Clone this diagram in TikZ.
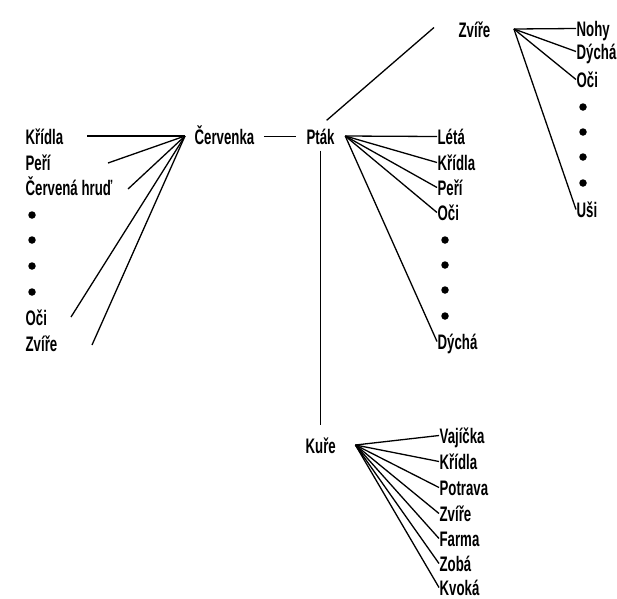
\documentclass[tikz,border=0pt]{standalone}
\usepackage{fontspec}
\setmainfont[FakeStretch=0.63]{Liberation Sans}
\begin{document}
\begin{tikzpicture}[x=1pt,y=-1pt,line width=1.3pt,
  word/.style={anchor=base west,inner sep=0pt,text height=15pt,text depth=0pt,
    font=\fontsize{21}{24}\selectfont\bfseries},
  dot/.style={circle,fill,inner sep=0pt,minimum size=7.5pt}]
  \useasboundingbox (0,0) rectangle (617,598);
  % Main concepts
  \node (cerv) at (194,144) [word] {Červenka};
  \node (ptak) at (306,144) [word] {Pták};
  \node (zvire) at (458,37) [word] {Zvíře};
  \node (kure) at (305,453) [word] {Kuře};
  \coordinate (cervhub) at ([xshift=-9pt,yshift=0.5pt]cerv.west);
  \coordinate (ptakhub) at ([xshift=10pt,yshift=0.5pt]ptak.east);
  \coordinate (zvirehub) at ([xshift=23pt,yshift=0.5pt]zvire.east);
  \coordinate (kurehub) at ([xshift=19pt,yshift=0.5pt]kure.east);
  \draw[shorten <=9pt,shorten >=10pt] (cerv.east) -- (ptak.west);
  \draw ([xshift=6pt,yshift=8pt]ptak.north) -- ([xshift=-24pt,yshift=2pt]zvire.west);
  \draw ([yshift=-6pt]ptak.south) -- ([yshift=12pt]ptak.south |- kure.north);
  % Cervenka features
  \foreach \n/\t/\y in {ck/Křídla/144,cp/Peří/170,ch/Červená hruď/195,co/Oči/325,cz/Zvíře/351}
    \node (\n) at (25,\y) [word] {\t};
  \foreach \y in {215,240,266,292}
    \node (cd\y) at (32,\y) [dot] {};
  \foreach \n/\x/\y in {ck/87/136,cp/108/163,ch/128/189,co/71/317,cz/92/345}
    \coordinate (\n-end) at (\x,\y);
  \foreach \n in {ck,cp,ch,co,cz}
    \draw (\n-end) -- (cervhub);
  % Ptak features
  \foreach \n/\t/\y in {pl/Létá/144,pk/Křídla/170,pp/Peří/195,po/Oči/220,pd/Dýchá/349}{
    \node (\n) at (437,\y) [word] {\t};
    \draw (ptakhub) -- (\n.west);
  }
  \foreach \y in {240,265,290,316}
    \node (pd\y) at (445,\y) [dot] {};
  % Zvire features
  \foreach \n/\t/\y in {zn/Nohy/36,zd/Dýchá/59,zo/Oči/87,zu/Uši/217}{
    \node (\n) at (576,\y) [word] {\t};
    \draw (zvirehub) -- (\n.west);
  }
  \foreach \y in {107,132,157,183}
    \node (zd\y) at (583,\y) [dot] {};
  % Kure features
  \foreach \n/\t/\y in {kv/Vajíčka/443,kk/Křídla/469,kp/Potrava/495,kz/Zvíře/521,kf/Farma/546,kb/Zobá/571,kq/Kvoká/595}{
    \node (\n) at (439,\y) [word] {\t};
    \draw (kurehub) -- (\n.west);
  }
\end{tikzpicture}
\end{document}
